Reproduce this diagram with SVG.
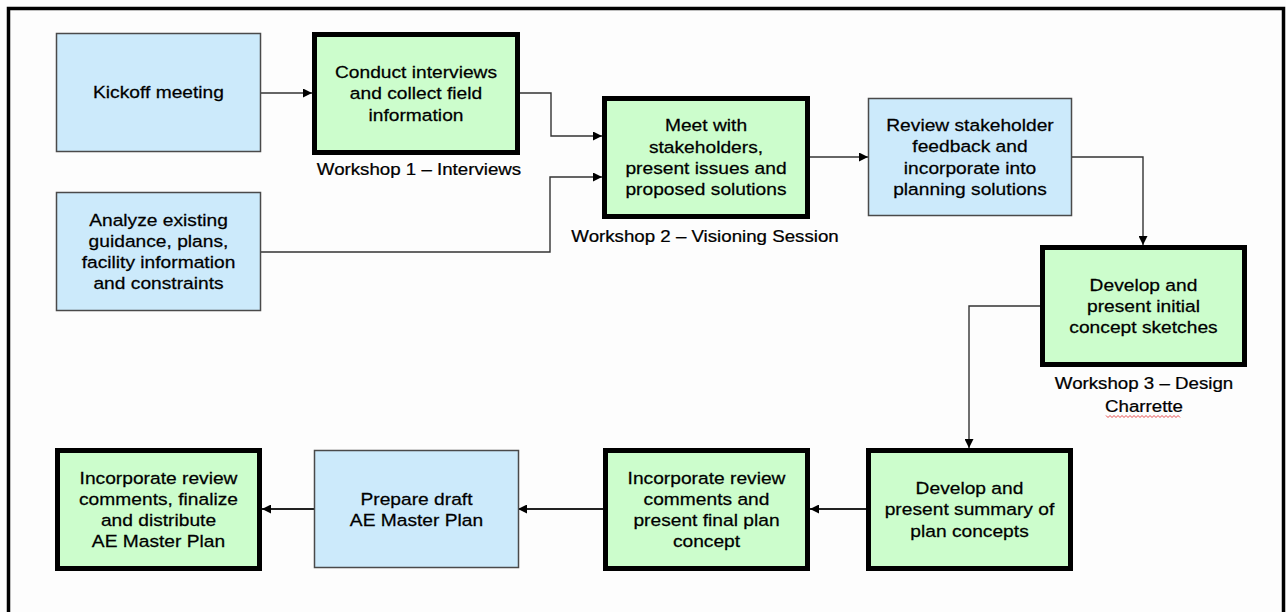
<svg xmlns="http://www.w3.org/2000/svg" width="1286" height="612" viewBox="0 0 1286 612">
<defs>
<style>
.bg{fill:#fdfdfd}
.blue{fill:#cceafb;stroke:#4a4a4a;stroke-width:1.5}
.green{fill:#ccfdcc;stroke:#000;stroke-width:5}
.t{font-family:"Liberation Sans",Arial,sans-serif;font-size:17px;fill:#000;stroke:#000;stroke-width:0.25;text-anchor:middle}
.c{fill:none;stroke:#333;stroke-width:1.4}
.c2{fill:none;stroke:#222;stroke-width:2}
.frame{fill:none;stroke:#000;stroke-width:3.5}
</style>
<marker id="ah" viewBox="0 0 10 10" refX="10" refY="5" markerWidth="9" markerHeight="9" markerUnits="userSpaceOnUse" orient="auto">
<path d="M0,0 L10,5 L0,10 z" fill="#000"/>
</marker>
</defs>
<rect class="bg" x="0" y="0" width="1286" height="612"/>
<path class="frame" d="M8.5,612 V8.5 H1283.5 V612"/>

<g id="connectors">
<path class="c" d="M261,93 H312" marker-end="url(#ah)"/>
<path class="c" d="M520,93 H551 V136 H602" marker-end="url(#ah)"/>
<path class="c" d="M261,252 H550 V177 H602" marker-end="url(#ah)"/>
<path class="c" d="M810,157 H868" marker-end="url(#ah)"/>
<path class="c" d="M1072,157 H1143 V245" marker-end="url(#ah)"/>
<path class="c" d="M1040,306 H969 V448" marker-end="url(#ah)"/>
<path class="c2" d="M866,509 H810" marker-end="url(#ah)"/>
<path class="c2" d="M603,509 H518" marker-end="url(#ah)"/>
<path class="c2" d="M314,509 H262" marker-end="url(#ah)"/>
</g>

<g id="kickoff">
<rect class="blue" x="56.5" y="33.5" width="204" height="118"/>
<text class="t" transform="translate(158.5 0) scale(1.13 1)"><tspan x="0" y="98.5">Kickoff meeting</tspan></text>
</g>

<g id="conduct">
<rect class="green" x="314.5" y="34.5" width="203" height="118"/>
<text class="t" transform="translate(416 0) scale(1.13 1)"><tspan x="0" y="78.2">Conduct interviews</tspan><tspan x="0" y="99.5">and collect field</tspan><tspan x="0" y="120.8">information</tspan></text>
<text class="t" transform="translate(419 0) scale(1.1 1)"><tspan x="0" y="175">Workshop 1 – Interviews</tspan></text>
</g>

<g id="analyze">
<rect class="blue" x="56.5" y="192.5" width="204" height="118"/>
<text class="t" transform="translate(158.5 0) scale(1.13 1)"><tspan x="0" y="225.6">Analyze existing</tspan><tspan x="0" y="246.9">guidance, plans,</tspan><tspan x="0" y="268.2">facility information</tspan><tspan x="0" y="289.5">and constraints</tspan></text>
</g>

<g id="meet">
<rect class="green" x="604.5" y="98.5" width="203" height="118"/>
<text class="t" transform="translate(706 0) scale(1.13 1)"><tspan x="0" y="131.5">Meet with</tspan><tspan x="0" y="152.8">stakeholders,</tspan><tspan x="0" y="174.1">present issues and</tspan><tspan x="0" y="195.4">proposed solutions</tspan></text>
<text class="t" transform="translate(705 0) scale(1.1 1)"><tspan x="0" y="242">Workshop 2 – Visioning Session</tspan></text>
</g>

<g id="review">
<rect class="blue" x="868.5" y="98.5" width="203" height="117"/>
<text class="t" transform="translate(970 0) scale(1.13 1)"><tspan x="0" y="131">Review stakeholder</tspan><tspan x="0" y="152.3">feedback and</tspan><tspan x="0" y="173.6">incorporate into</tspan><tspan x="0" y="194.9">planning solutions</tspan></text>
</g>

<g id="develop-initial">
<rect class="green" x="1042.5" y="247.5" width="202" height="117"/>
<text class="t" transform="translate(1143.5 0) scale(1.13 1)"><tspan x="0" y="290.7">Develop and</tspan><tspan x="0" y="312">present initial</tspan><tspan x="0" y="333.3">concept sketches</tspan></text>
<text class="t" transform="translate(1144 0) scale(1.1 1)"><tspan x="0" y="389">Workshop 3 – Design</tspan><tspan x="0" y="412">Charrette</tspan></text>
<path d="M1106,415.5 l2,2 l2,-2 l2,2 l2,-2 l2,2 l2,-2 l2,2 l2,-2 l2,2 l2,-2 l2,2 l2,-2 l2,2 l2,-2 l2,2 l2,-2 l2,2 l2,-2 l2,2 l2,-2 l2,2 l2,-2 l2,2 l2,-2 l2,2 l2,-2 l2,2 l2,-2 l2,2 l2,-2 l2,2 l2,-2 l2,2 l2,-2 l2,2 l2,-2 l2,2" fill="none" stroke="#e02020" stroke-width="0.8"/>
</g>

<g id="summary">
<rect class="green" x="868.5" y="450.5" width="202" height="118"/>
<text class="t" transform="translate(969.5 0) scale(1.13 1)"><tspan x="0" y="494.2">Develop and</tspan><tspan x="0" y="515.5">present summary of</tspan><tspan x="0" y="536.8">plan concepts</tspan></text>
</g>

<g id="incorporate-final">
<rect class="green" x="605.5" y="450.5" width="202" height="118"/>
<text class="t" transform="translate(706.5 0) scale(1.13 1)"><tspan x="0" y="483.6">Incorporate review</tspan><tspan x="0" y="504.9">comments and</tspan><tspan x="0" y="526.2">present final plan</tspan><tspan x="0" y="547.5">concept</tspan></text>
</g>

<g id="prepare">
<rect class="blue" x="314.5" y="450.5" width="204" height="117"/>
<text class="t" transform="translate(416.5 0) scale(1.13 1)"><tspan x="0" y="504.9">Prepare draft</tspan><tspan x="0" y="526.2">AE Master Plan</tspan></text>
</g>

<g id="finalize">
<rect class="green" x="57.5" y="450.5" width="202" height="118"/>
<text class="t" transform="translate(158.5 0) scale(1.13 1)"><tspan x="0" y="483.6">Incorporate review</tspan><tspan x="0" y="504.9">comments, finalize</tspan><tspan x="0" y="526.2">and distribute</tspan><tspan x="0" y="547.5">AE Master Plan</tspan></text>
</g>
</svg>
